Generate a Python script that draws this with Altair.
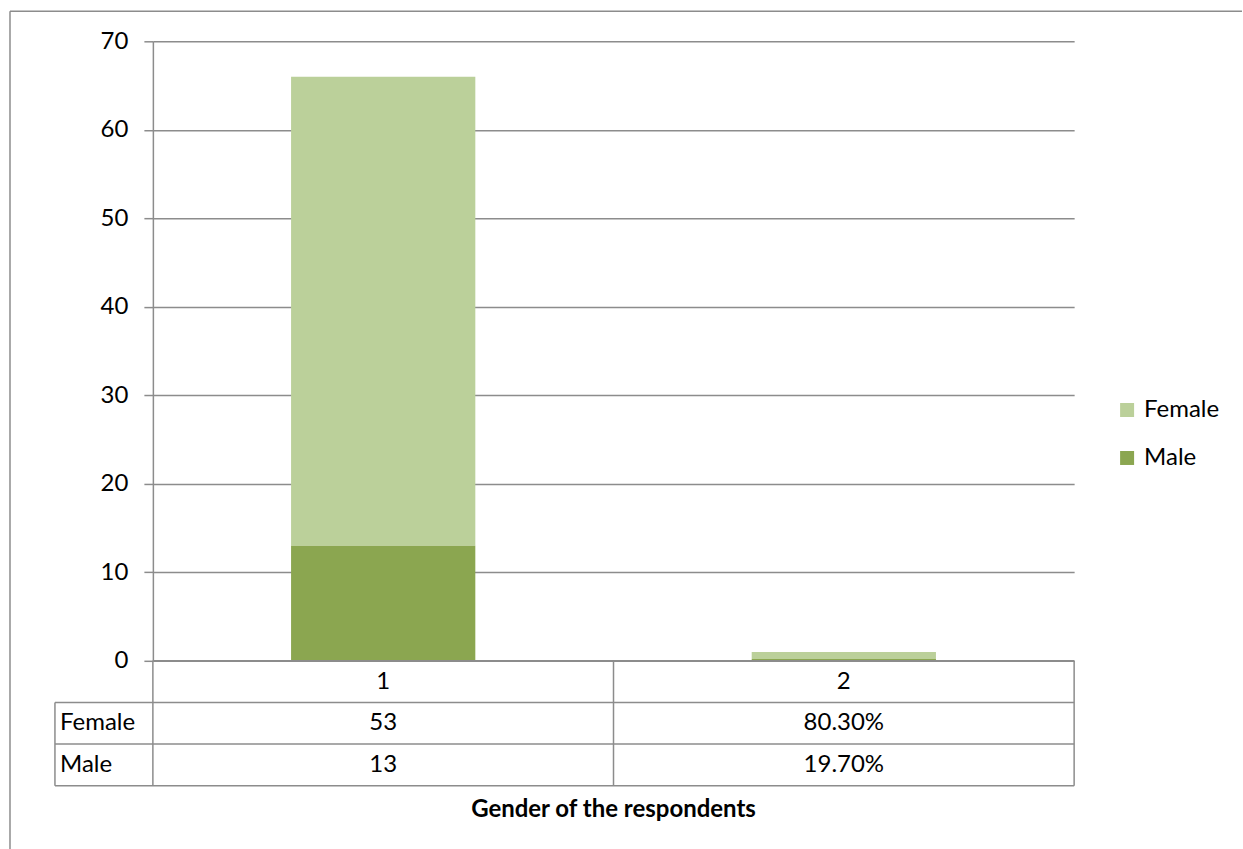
import altair as alt
import pandas as pd

# ---- data ----
categories = ["1", "2"]
genders = ["Female", "Male"]
female_values = [53, 0.803]
male_values = [13, 0.197]
female_labels = ["53", "80.30%"]
male_labels = ["13", "19.70%"]
y_ticks = [0, 10, 20, 30, 40, 50, 60, 70]
x_title = "Gender of the respondents"

# ---- styling ----
FONT = "Lato"
FS = 24
GRID = "#8c8c8c"
COLORS = ["#BBD09A", "#8BA650"]
PLOT_W = 922
PLOT_H = 620
TABLE_H = 125
LABEL_COL = -0.2126  # left edge of the row-label column, in table units

# ---- bar chart ----
rows = []
for i, c in enumerate(categories):
    rows.append({"category": c, "gender": "Female", "value": female_values[i], "order": 1})
    rows.append({"category": c, "gender": "Male", "value": male_values[i], "order": 0})
df_bar = pd.DataFrame(rows)

bars = alt.Chart(df_bar).mark_bar().encode(
    x=alt.X("category:N", scale=alt.Scale(domain=categories, paddingInner=0.6, paddingOuter=0.3), axis=None),
    y=alt.Y("value:Q", stack="zero",
            scale=alt.Scale(domain=[0, 70], nice=False),
            axis=alt.Axis(values=y_ticks, title=None, grid=True, gridColor=GRID, gridWidth=1.5,
                          domainColor=GRID, domainWidth=1.5, tickColor=GRID, tickWidth=1.5,
                          tickSize=9, labelFont=FONT, labelFontSize=FS, labelColor="black",
                          labelPadding=16)),
    color=alt.Color("gender:N", scale=alt.Scale(domain=genders, range=COLORS),
                    legend=alt.Legend(title=None, orient="none", legendX=963, legendY=357,
                                      symbolType="square", symbolSize=196, symbolStrokeWidth=0,
                                      labelFont=FONT, labelFontSize=FS, labelColor="black",
                                      rowPadding=24, labelOffset=5)),
    order=alt.Order("order:Q"),
)

dummy = pd.DataFrame({"a": [0]})
frame_top = alt.Chart(dummy).mark_rule(color=GRID, strokeWidth=1.5).encode(
    x=alt.value(-143), x2=alt.value(1090), y=alt.value(-30))
frame_left = alt.Chart(dummy).mark_rule(color=GRID, strokeWidth=1.5).encode(
    x=alt.value(-143), y=alt.value(-30), y2=alt.value(810))

top = alt.layer(frame_top, frame_left, bars).properties(width=PLOT_W, height=PLOT_H)

# ---- data table ----
cells = []
for i, c in enumerate(categories):
    cells.append({"x": i + 0.5, "y": 0.5, "text": c})
    cells.append({"x": i + 0.5, "y": 1.5, "text": female_labels[i]})
    cells.append({"x": i + 0.5, "y": 2.5, "text": male_labels[i]})
df_cells = pd.DataFrame(cells)
df_rowlab = pd.DataFrame({"x": [LABEL_COL + 0.011] * 2, "y": [1.5, 2.5], "text": genders})
n = len(categories)
df_h = pd.DataFrame({"y": [0, 1, 2, 3], "x1": [0, LABEL_COL, LABEL_COL, LABEL_COL], "x2": [n] * 4})
df_v = pd.DataFrame({"x": [LABEL_COL] + list(range(n + 1)), "y1": [1] + [0] * (n + 1), "y2": [3] * (n + 2)})
df_title = pd.DataFrame({"x": [n / 2], "y": [3.58], "text": [x_title]})

xs = alt.Scale(domain=[0, n], nice=False, zero=False)
ys = alt.Scale(domain=[0, 3], nice=False, zero=False, reverse=True)

hlines = alt.Chart(df_h).mark_rule(color=GRID, strokeWidth=1.5).encode(
    x=alt.X("x1:Q", scale=xs, axis=None), x2="x2:Q", y=alt.Y("y:Q", scale=ys, axis=None))
vlines = alt.Chart(df_v).mark_rule(color=GRID, strokeWidth=1.5).encode(
    x=alt.X("x:Q", scale=xs, axis=None), y=alt.Y("y1:Q", scale=ys, axis=None), y2="y2:Q")
cell_text = alt.Chart(df_cells).mark_text(font=FONT, fontSize=FS, color="black", baseline="middle").encode(
    x=alt.X("x:Q", scale=xs, axis=None), y=alt.Y("y:Q", scale=ys, axis=None), text="text:N")
row_text = alt.Chart(df_rowlab).mark_text(font=FONT, fontSize=FS, color="black", baseline="middle",
                                          align="left").encode(
    x=alt.X("x:Q", scale=xs, axis=None), y=alt.Y("y:Q", scale=ys, axis=None), text="text:N")
title_text = alt.Chart(df_title).mark_text(font=FONT, fontSize=FS, fontWeight="bold", color="black",
                                           baseline="middle").encode(
    x=alt.X("x:Q", scale=xs, axis=None), y=alt.Y("y:Q", scale=ys, axis=None), text="text:N")

bottom = alt.layer(hlines, vlines, cell_text, row_text, title_text).properties(width=PLOT_W, height=TABLE_H)

chart = alt.vconcat(top, bottom, spacing=0, bounds="flush").configure_view(stroke=None).properties(
    padding={"left": 9, "top": 10, "right": 0, "bottom": 0}, background="white")

chart.save("out.html", embed_options={"renderer": "svg", "actions": False})
